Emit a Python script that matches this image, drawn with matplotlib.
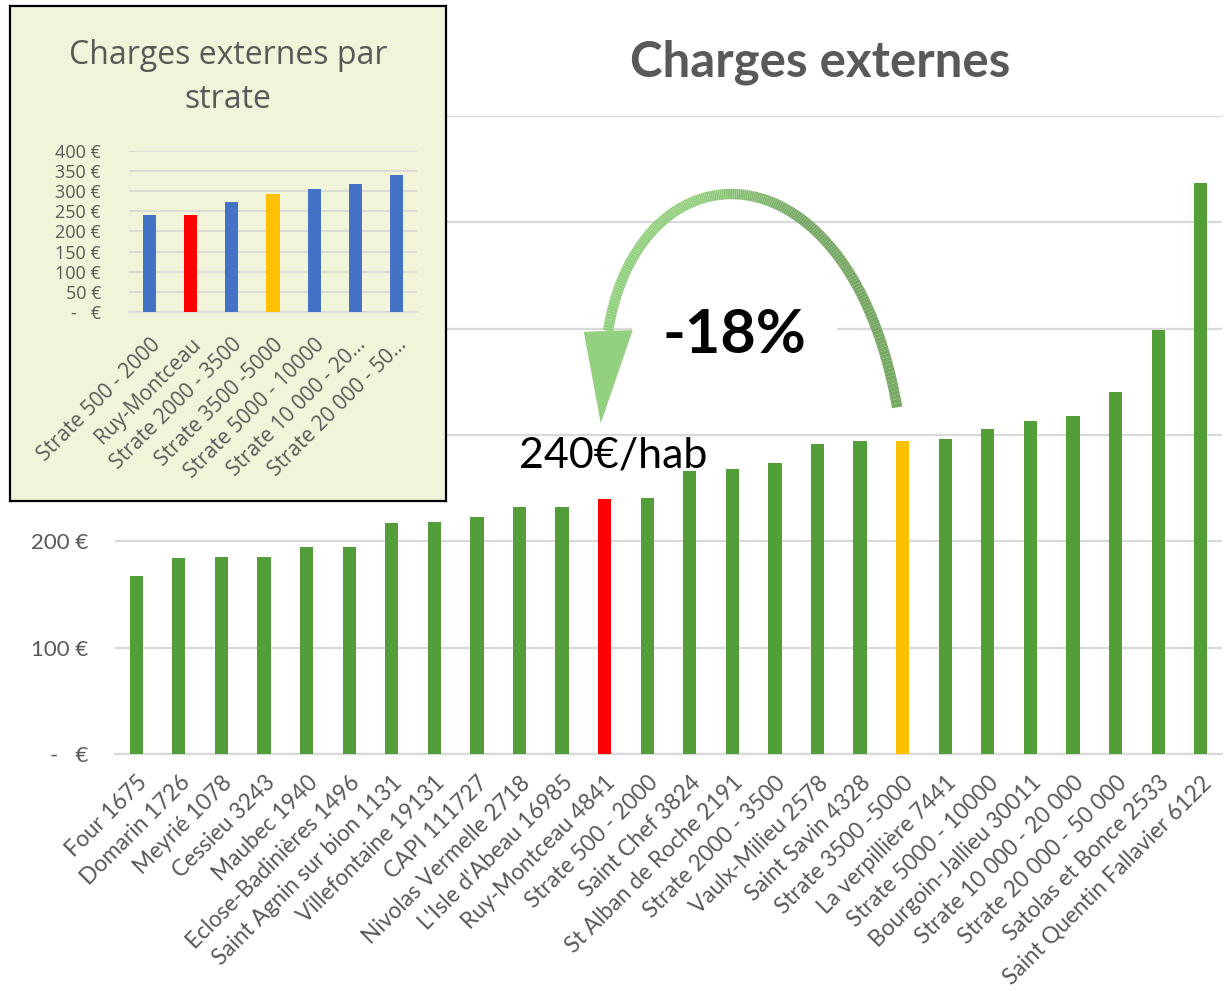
import numpy as np
import matplotlib
matplotlib.use("Agg")
import matplotlib.pyplot as plt
from matplotlib.collections import LineCollection
from matplotlib.patches import Polygon

# ---------------- data ----------------
communes = ["Four 1675", "Domarin 1726", "Meyrié 1078", "Cessieu 3243", "Maubec 1940",
            "Eclose-Badinières 1496", "Saint Agnin sur bion 1131", "Villefontaine 19131",
            "CAPI 111727", "Nivolas Vermelle 2718", "L'Isle d'Abeau 16985",
            "Ruy-Montceau 4841", "Strate 500 - 2000", "Saint Chef 3824",
            "St Alban de Roche 2191", "Strate 2000 - 3500", "Vaulx-Milieu 2578",
            "Saint Savin 4328", "Strate 3500 -5000", "La verpillière 7441",
            "Strate 5000 - 10000", "Bourgoin-Jallieu 30011", "Strate 10 000 - 20 000",
            "Strate 20 000 - 50 000", "Satolas et Bonce 2533", "Saint Quentin Fallavier 6122"]
charges = [167, 184, 185, 185, 195, 195, 217, 218, 223, 232, 232, 240, 241, 266, 268,
           274, 292, 294, 294, 296, 306, 313, 318, 340, 399, 537]
main_yticks = [0, 100, 200, 300, 400, 500, 600]
main_yticklabels = ["-   €", "100 €", "200 €", "300 €", "400 €", "500 €", "600 €"]

strates = ["Strate 500 - 2000", "Ruy-Montceau", "Strate 2000 - 3500", "Strate 3500 -5000",
           "Strate 5000 - 10000", "Strate 10 000 - 20…", "Strate 20 000 - 50…"]
strate_values = [241, 240, 274, 294, 306, 318, 340]
inset_yticks = [0, 50, 100, 150, 200, 250, 300, 350, 400]
inset_yticklabels = ["-   €", "50 €", "100 €", "150 €", "200 €", "250 €", "300 €", "350 €", "400 €"]

highlight = "Ruy-Montceau"
reference = "Strate 3500 -5000"

GREEN, RED, YELLOW, BLUE = "#549E3A", "#FF0000", "#FFC000", "#4472C4"
GRAY_TXT, GRID = "#595959", "#D9D9D9"

W, H = 1224, 991
fig = plt.figure(figsize=(W / 100, H / 100), dpi=100)
fig.patch.set_facecolor("white")

# ---------------- main chart ----------------
ax = fig.add_axes([115 / W, 1 - 754 / H, (1222 - 115) / W, (754 - 116) / H])
x = np.arange(len(communes))
colors = [RED if c.startswith(highlight) else YELLOW if c == reference else GREEN for c in communes]
ax.bar(x, charges, width=0.31, color=colors, zorder=3)
ax.set_xlim(-0.5, len(communes) - 0.5)
ax.set_ylim(0, 600)
ax.set_yticks(main_yticks)
ax.set_yticklabels(main_yticklabels, fontsize=16, color=GRAY_TXT, family="Lato")
ax.yaxis.grid(True, color=GRID, linewidth=1.6, zorder=0)
ax.set_axisbelow(True)
for s in ["top", "right", "left"]:
    ax.spines[s].set_visible(False)
ax.spines["bottom"].set_color(GRID)
ax.spines["bottom"].set_linewidth(1.6)
ax.tick_params(axis="y", length=0, pad=19)
ax.tick_params(axis="x", length=0, pad=13)
ax.set_xticks(x)
ax.set_xticklabels(communes, rotation=45, ha="right", va="top", rotation_mode="anchor",
                   fontsize=16.3, color=GRAY_TXT, family="Lato")

fig.text(820 / W, 1 - 62 / H, "Charges externes", ha="center", va="center",
         fontsize=35.5, fontweight="bold", color=GRAY_TXT, family="Lato")

# curved arrow (annotation) from the reference strate to the commune
i_ref = communes.index(reference)
i_hi = [k for k, c in enumerate(communes) if c.startswith(highlight)][0]
P0 = np.array([i_ref - 0.13, 326.0])
P1 = np.array([i_ref - 1.24, 580.0])
P2 = np.array([i_hi + 0.83, 580.0])
P3 = np.array([i_hi + 0.08, 398.0])
t = np.linspace(0, 1, 200)[:, None]
pts = ((1 - t) ** 3) * P0 + 3 * ((1 - t) ** 2) * t * P1 + 3 * (1 - t) * t ** 2 * P2 + t ** 3 * P3
segs = np.stack([pts[:-1], pts[1:]], axis=1)
c_dark = np.array(matplotlib.colors.to_rgb("#77A965"))
c_light = np.array(matplotlib.colors.to_rgb("#93D07F"))
tt = np.linspace(0, 1, len(segs))[:, None]
w = np.clip((tt - 0.35) / 0.3, 0, 1)
seg_cols = c_dark * (1 - w) + c_light * w
lc = LineCollection(segs, colors=seg_cols, linewidths=7.5, capstyle="butt", zorder=6,
                    clip_on=False)
ax.add_collection(lc)
head = Polygon([[i_hi - 0.49, 397.0], [i_hi + 0.66, 398.7], [i_hi - 0.09, 311.0]],
               closed=True, facecolor="#93D07F", edgecolor="none", zorder=6, clip_on=False)
ax.add_patch(head)

ax.text(i_hi + 3.05, 394, "-18%", ha="center", va="center", fontsize=44, fontweight="bold",
        color="black", family="Lato", zorder=5,
        bbox=dict(facecolor="white", edgecolor="none", pad=22))
ax.text(i_hi + 0.2, 281, "240€/hab", ha="center", va="center", fontsize=31,
        color="black", family="Lato", zorder=5)

# ---------------- inset ----------------
ax_box = fig.add_axes([10 / W, 1 - 501 / H, 436 / W, 495 / H], zorder=10)
ax_box.set_facecolor("#F2F4D9")
ax_box.set_xticks([])
ax_box.set_yticks([])
for s in ax_box.spines.values():
    s.set_color("black")
    s.set_linewidth(1.6)
ax_box.text(218 / 436, 1 - 49 / 495, "Charges externes par", transform=ax_box.transAxes,
            ha="center", va="center", fontsize=23, color=GRAY_TXT, family="Open Sans")
ax_box.text(218 / 436, 1 - 94 / 495, "strate", transform=ax_box.transAxes,
            ha="center", va="center", fontsize=23, color=GRAY_TXT, family="Open Sans")

ax_in = fig.add_axes([129 / W, 1 - 312 / H, 288 / W, (312 - 151) / H], zorder=11)
ax_in.patch.set_alpha(0)
xi = np.arange(len(strates))
icolors = [RED if s == highlight else YELLOW if s == reference else BLUE for s in strates]
ax_in.bar(xi, strate_values, width=0.32, color=icolors, zorder=3)
ax_in.set_xlim(-0.5, len(strates) - 0.5)
ax_in.set_ylim(0, 400)
ax_in.set_yticks(inset_yticks)
ax_in.set_yticklabels(inset_yticklabels, fontsize=13, color=GRAY_TXT, family="Open Sans")
ax_in.yaxis.grid(True, color=GRID, linewidth=1.3, zorder=0)
ax_in.set_axisbelow(True)
for s in ["top", "right", "left"]:
    ax_in.spines[s].set_visible(False)
ax_in.spines["bottom"].set_color(GRID)
ax_in.spines["bottom"].set_linewidth(1.3)
ax_in.tick_params(axis="y", length=0, pad=20)
ax_in.tick_params(axis="x", length=0, pad=16)
ax_in.set_xticks(xi)
ax_in.set_xticklabels(strates, rotation=45, ha="right", va="top", rotation_mode="anchor",
                      fontsize=15, color=GRAY_TXT, family="Open Sans")

fig.savefig("out.png", dpi=100)
